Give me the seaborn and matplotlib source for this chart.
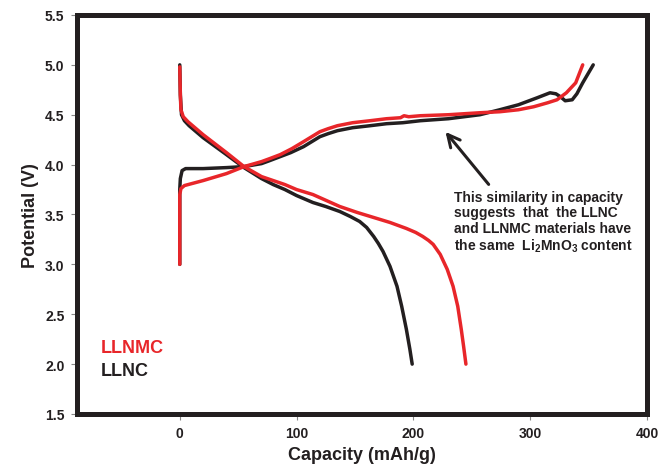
import pandas as pd
import seaborn as sns
from matplotlib import pyplot as plt

# LLNC (black) charge / discharge
llnc_chg_x = [0, 0, 0.5, 2, 5, 20, 40, 55, 70, 77, 86, 95, 106, 113, 120, 127, 135,
              148, 163, 177, 191, 206, 230, 257, 274, 290, 306, 317, 322, 326, 330,
              336, 340, 345, 354]
llnc_chg_y = [3.0, 3.75, 3.86, 3.94, 3.96, 3.96, 3.97, 3.98, 4.01, 4.04, 4.08, 4.12,
              4.18, 4.23, 4.28, 4.31, 4.34, 4.37, 4.39, 4.41, 4.42, 4.44, 4.46, 4.50,
              4.55, 4.60, 4.67, 4.72, 4.71, 4.68, 4.64, 4.65, 4.71, 4.82, 5.0]
llnc_dis_x = [0, 0.5, 1.5, 4, 8, 20, 40, 55, 70, 80, 90, 100, 114, 125, 137, 146, 154,
              160, 166, 170, 174, 180, 186, 190, 194, 197, 199]
llnc_dis_y = [5.0, 4.7, 4.50, 4.44, 4.39, 4.27, 4.10, 3.97, 3.86, 3.80, 3.75, 3.69,
              3.62, 3.58, 3.53, 3.48, 3.43, 3.37, 3.28, 3.21, 3.13, 2.98, 2.78, 2.58,
              2.35, 2.15, 2.0]

# LLNMC (red) charge / discharge
llnmc_chg_x = [0, 0, 1, 4, 20, 40, 55, 70, 77, 86, 96, 106, 113, 120, 127, 135, 148,
               163, 177, 189, 192, 196, 206, 230, 257, 274, 290, 303, 315, 323, 331,
               339, 345]
llnmc_chg_y = [3.0, 3.70, 3.76, 3.79, 3.84, 3.91, 3.98, 4.03, 4.06, 4.10, 4.16, 4.23,
               4.28, 4.33, 4.36, 4.39, 4.42, 4.44, 4.46, 4.47, 4.49, 4.48, 4.49, 4.50,
               4.52, 4.53, 4.55, 4.58, 4.62, 4.65, 4.72, 4.82, 5.0]
llnmc_dis_x = [0, 0.5, 1, 3, 7, 20, 40, 55, 70, 80, 90, 100, 114, 137, 152, 166, 180,
               194, 202, 208, 213, 217, 220, 223, 229, 234, 238, 241, 243, 245]
llnmc_dis_y = [4.98, 4.7, 4.55, 4.48, 4.43, 4.30, 4.12, 3.98, 3.88, 3.84, 3.80, 3.75,
               3.70, 3.58, 3.52, 3.47, 3.42, 3.36, 3.32, 3.28, 3.24, 3.20, 3.15, 3.10,
               2.95, 2.78, 2.58, 2.35, 2.18, 2.0]

DARK = '#231f20'
RED = '#e8262a'

sns.set_style('ticks')
plt.rcParams['font.family'] = ['Liberation Sans', 'DejaVu Sans']
plt.rcParams['mathtext.fontset'] = 'custom'
plt.rcParams['mathtext.bf'] = 'Liberation Sans:bold'
plt.rcParams['mathtext.rm'] = 'Liberation Sans:bold'

fig = plt.figure(figsize=(6.63, 4.77), dpi=100)
ax = fig.add_axes([0.1161, 0.130, 0.8597, 0.8365])

curves = [(llnc_chg_x, llnc_chg_y, DARK), (llnc_dis_x, llnc_dis_y, DARK),
          (llnmc_chg_x, llnmc_chg_y, RED), (llnmc_dis_x, llnmc_dis_y, RED)]
for xs, ys, col in curves:
    df = pd.DataFrame({'x': xs, 'y': ys})
    # sort=False keeps the vertical start segments in order
    sns.lineplot(data=df, x='x', y='y', sort=False, estimator=None,
                 color=col, linewidth=2.5, ax=ax)
for ln in ax.get_lines():
    ln.set_solid_joinstyle('round')
    ln.set_solid_capstyle('round')

ax.set_xlim(-88, 400)
ax.set_ylim(1.5, 5.5)
ax.set_xticks([0, 100, 200, 300, 400])
ax.set_yticks([1.5, 2.0, 2.5, 3.0, 3.5, 4.0, 4.5, 5.0, 5.5])
ax.set_yticklabels(['1.5', '2.0', '2.5', '3.0', '3.5', '4.0', '4.5', '5.0', '5.5'])
ax.set_xlabel('Capacity (mAh/g)', fontsize=13, fontweight='bold', color=DARK)
ax.set_ylabel('Potential (V)', fontsize=13, fontweight='bold', color=DARK)
ax.tick_params(labelsize=10, length=4, width=0.8, color='#888888',
               labelcolor=DARK, pad=5)
for lab in ax.get_xticklabels() + ax.get_yticklabels():
    lab.set_fontweight('bold')
for sp in ax.spines.values():
    sp.set_visible(True)
    sp.set_linewidth(3.6)
    sp.set_color(DARK)

ax.text(-68, 2.17, 'LLNMC', color=RED, fontsize=13, fontweight='bold', va='center')
ax.text(-68, 1.94, 'LLNC', color=DARK, fontsize=13, fontweight='bold', va='center')

ax.annotate('', xy=(226, 4.35), xytext=(266, 3.78),
            arrowprops=dict(arrowstyle='->', color=DARK, lw=2.2,
                            mutation_scale=22))
ax.text(234.5, 3.75,
        'This similarity in capacity\nsuggests  that  the LLNC\n'
        'and LLNMC materials have\nthe same  Li$_\\mathbf{2}$MnO$_\\mathbf{3}$ content',
        fontsize=10, fontweight='bold', color=DARK, ha='left', va='top',
        linespacing=1.15)

plt.savefig('out.png', dpi=100)
plt.clf()
